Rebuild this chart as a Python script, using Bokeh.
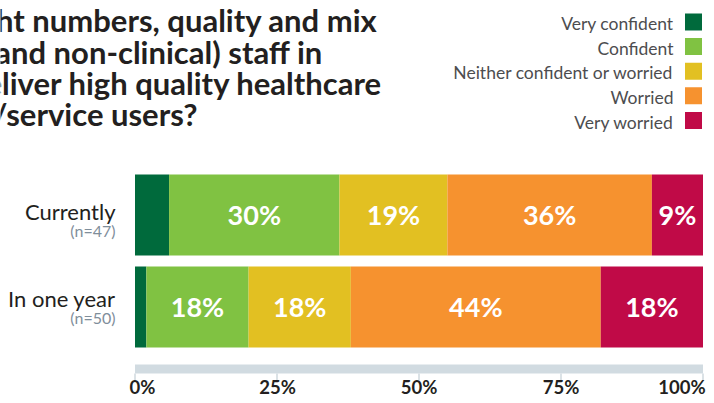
from bokeh.plotting import figure
from bokeh.models import ColumnDataSource, Range1d
from bokeh.core.properties import value
from bokeh.embed import file_html
from bokeh.resources import INLINE

# ---------------- data ----------------
categories = ["Currently", "In one year"]
sample_sizes = ["(n=47)", "(n=50)"]
responses = ["Very confident", "Confident", "Neither confident or worried",
             "Worried", "Very worried"]
colors = ["#006a3c", "#80c242", "#e2c022", "#f6922f", "#c00a47"]
currently = [6, 30, 19, 36, 9]
in_one_year = [2, 18, 18, 44, 18]
tick_values = [0, 25, 50, 75, 100]
tick_labels = ["0%", "25%", "50%", "75%", "100%"]
title_lines = ["the right numbers, quality and mix",
               "of (clinical and non-clinical) staff in",
               "place to deliver high quality healthcare",
               "to patients/service users?"]

# ---------------- layout (pixels) ----------------
W, H = 706, 395
X0_PX, X100_PX = 134.5, 702.5      # canvas px of 0% and 100%
SX = (X100_PX - X0_PX) / 100.0
ROW_TOP_PX = 214.5                  # canvas px of the first row centre
SY = 92.0                           # px between rows
NROWS = len(categories)
MID = 0.387                         # em-box middle above the baseline (em)


def xd(px):
    return (px - X0_PX) / SX


def yd(py):
    return (NROWS - 1) + (ROW_TOP_PX - py) / SY


def ybase(py, fs):
    """data y for a 'middle' anchored text whose baseline sits at canvas px py"""
    return yd(py - MID * fs)


FONT = value("Lato")
DARK = "#231f20"

p = figure(width=W, height=H, x_range=Range1d(xd(0), xd(W)),
           y_range=Range1d(yd(H), yd(0)), output_backend="svg",
           toolbar_location=None, x_axis_location=None, y_axis_location=None,
           min_border=0, outline_line_color=None, background_fill_color="white",
           border_fill_color="white")
p.grid.visible = False

# ---------------- bars ----------------
FS_BAR = 27
series = [currently, in_one_year]
rows = [NROWS - 1 - i for i in range(NROWS)]
seg = dict(y=[], left=[], right=[], color=[], mid=[], label=[], ly=[])
for r, vals in zip(rows, series):
    left = 0
    for v, c in zip(vals, colors):
        seg["y"].append(r)
        seg["left"].append(left)
        seg["right"].append(left + v)
        seg["color"].append(c)
        seg["mid"].append(left + v / 2.0)
        seg["label"].append(f"{v}%" if v >= 8 else "")
        seg["ly"].append(r - (9.5 - MID * FS_BAR) / SY)
        left += v
src = ColumnDataSource(seg)
p.hbar(y="y", left="left", right="right", height=81 / SY, fill_color="color",
       line_color=None, source=src)
p.text(x="mid", y="ly", text="label", source=src, text_align="center",
       text_baseline="middle", text_color="white", text_font=FONT,
       text_font_style="bold", text_font_size=f"{FS_BAR}px")

# ---------------- category labels ----------------
FS_CAT, FS_N = 22, 16
name_dy = [4.8, 0.2]
n_dy = [22.0, 17.0]
p.text(x=[xd(115)] * NROWS,
       y=[r - (d - MID * FS_CAT) / SY for r, d in zip(rows, name_dy)],
       text=categories, text_align="right", text_baseline="middle",
       text_color=DARK, text_font=FONT, text_font_size=f"{FS_CAT}px")
p.text(x=[xd(115)] * NROWS,
       y=[r - (d - MID * FS_N) / SY for r, d in zip(rows, n_dy)],
       text=sample_sizes, text_align="right", text_baseline="middle",
       text_color="#7f8e9b", text_font=FONT, text_font_size=f"{FS_N}px")

# ---------------- bottom scale ----------------
FS_TICK = 18.5
p.hbar(y=[yd(368.5)], left=[tick_values[0]], right=[tick_values[-1]],
       height=9 / SY, fill_color="#d1dbe1", line_color=None)
p.segment(x0=tick_values, x1=tick_values, y0=[yd(373)] * len(tick_values),
          y1=[yd(380)] * len(tick_values), line_color="#cfd8de", line_width=1.5)
lab_dx = [7.5, 0.5, 0, 0, -21]
p.text(x=[t + d / SX for t, d in zip(tick_values, lab_dx)],
       y=[ybase(394, FS_TICK)] * len(tick_values), text=tick_labels,
       text_align="center", text_baseline="middle", text_color=DARK,
       text_font=FONT, text_font_style="bold", text_font_size=f"{FS_TICK}px")

# ---------------- legend ----------------
FS_LEG = 17.5
leg_c = [21.5 + 24.6 * i for i in range(len(responses))]
p.rect(x=[xd(693)] * len(responses), y=[yd(c) for c in leg_c], width=17,
       height=17, width_units="screen", height_units="screen",
       fill_color=colors, line_color=None)
p.text(x=[xd(673)] * len(responses), y=[ybase(c + 8.5, FS_LEG) for c in leg_c],
       text=responses, text_align="right", text_baseline="middle",
       text_color="#4d4d4f", text_font=FONT, text_font_size=f"{FS_LEG}px")

# ---------------- title (cropped at the left) ----------------
FS_TITLE = 31
t_right = [377, 323, 382, 197]
t_base = [31.7, 63.3, 94.5, 125.5]
p.text(x=[xd(v) for v in t_right], y=[ybase(v, FS_TITLE) for v in t_base],
       text=title_lines, text_align="right", text_baseline="middle",
       text_color=DARK, text_font=FONT, text_font_style="bold",
       text_font_size=f"{FS_TITLE}px")

open("out.html", "w").write(file_html(p, INLINE))
